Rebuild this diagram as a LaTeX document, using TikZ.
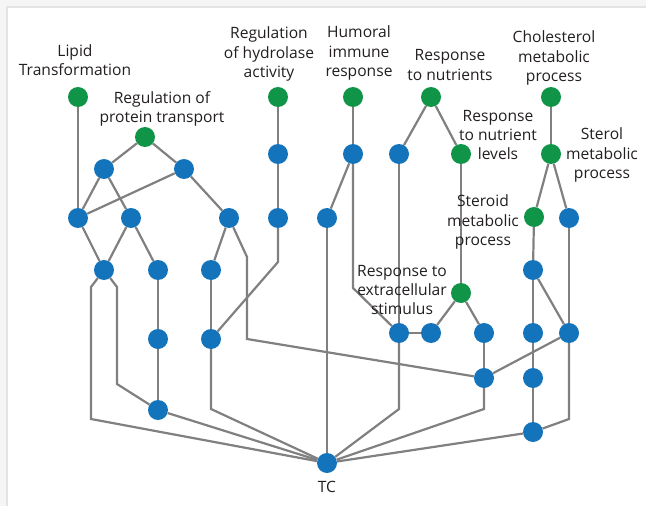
\documentclass[tikz,border=0pt]{standalone}
\usepackage{fontspec}
\setmainfont{Open Sans}
\definecolor{ngreen}{RGB}{16,149,72}
\definecolor{nblue}{RGB}{19,115,187}
\definecolor{edgec}{RGB}{128,128,128}
\definecolor{outerbg}{RGB}{245,245,245}
\definecolor{framec}{RGB}{228,228,230}
\definecolor{txt}{RGB}{35,31,32}
\begin{document}
\begin{tikzpicture}[x=1pt,y=-1pt,
  gnode/.style={circle,fill=ngreen,minimum size=20pt,inner sep=0pt},
  bnode/.style={circle,fill=nblue,minimum size=20pt,inner sep=0pt},
  lbl/.style={align=center,font=\fontsize{15.6}{19.3}\selectfont,text=txt,inner sep=0pt},
  conn/.style={draw=edgec,line width=2.2pt}]
\useasboundingbox (0,0) rectangle (646,506);
\fill[outerbg] (0,0) rectangle (646,506);
\fill[white] (8,8) rectangle (646,506);
\draw[framec,line width=2pt] (7,506) -- (7,7) -- (646,7);

% green nodes
\node[gnode] (G1) at (78,97) {};
\node[gnode] (G2) at (145,137) {};
\node[gnode] (G3) at (278,97) {};
\node[gnode] (G4) at (353,97) {};
\node[gnode] (G5) at (431,97) {};
\node[gnode] (G6) at (551,97) {};
\node[gnode] (G7) at (461,154) {};
\node[gnode] (G8) at (551,154) {};
\node[gnode] (G9) at (534,217) {};
\node[gnode] (G10) at (461,293) {};
% blue nodes
\node[bnode] (B1) at (104,169) {};
\node[bnode] (B2) at (184,169) {};
\node[bnode] (B3) at (278,154) {};
\node[bnode] (B4) at (353,154) {};
\node[bnode] (B5) at (399,154) {};
\node[bnode] (B6) at (78,218) {};
\node[bnode] (B7) at (131,218) {};
\node[bnode] (B8) at (229,218) {};
\node[bnode] (B9) at (278,218) {};
\node[bnode] (B10) at (327,218) {};
\node[bnode] (B11) at (569,218) {};
\node[bnode] (B12) at (104,270) {};
\node[bnode] (B13) at (158,270) {};
\node[bnode] (B14) at (211,270) {};
\node[bnode] (B15) at (533,270) {};
\node[bnode] (B16) at (158,339) {};
\node[bnode] (B17) at (211,339) {};
\node[bnode] (B18) at (399,333) {};
\node[bnode] (B19) at (431,333) {};
\node[bnode] (B20) at (484,333) {};
\node[bnode] (B21) at (533,333) {};
\node[bnode] (B22) at (569,333) {};
\node[bnode] (B23) at (484,378) {};
\node[bnode] (B24) at (533,378) {};
\node[bnode] (B25) at (158,410) {};
\node[bnode] (B26) at (533,432) {};
\node[bnode] (TC) at (327,463) {};

% bend points
\coordinate (p1) at (91,287);
\coordinate (p2) at (91,419);
\coordinate (p3) at (117,287);
\coordinate (p4) at (117,384);
\coordinate (p5) at (247,257);
\coordinate (p6) at (247,339);
\coordinate (p7) at (278,262);
\coordinate (p8) at (211,409);
\coordinate (p9) at (353,288);
\coordinate (p10) at (399,409);
\coordinate (p11) at (484,409);
\coordinate (p12) at (569,419);

% edges
\draw[conn] (G1) -- (B6);
\draw[conn] (G2) -- (B1);
\draw[conn] (G2) -- (B2);
\draw[conn] (B1) -- (B6);
\draw[conn] (B1) -- (B7);
\draw[conn] (B2) -- (B6);
\draw[conn] (B2) -- (B8);
\draw[conn] (B6) -- (B12);
\draw[conn] (B7) -- (B12);
\draw[conn] (B7) -- (B13);
\draw[conn] (B12) -- (p1) -- (p2) -- (TC);
\draw[conn] (B12) -- (p3) -- (p4) -- (B25);
\draw[conn] (B13) -- (B16);
\draw[conn] (B16) -- (B25);
\draw[conn] (B25) -- (TC);
\draw[conn] (B8) -- (B14);
\draw[conn] (B8) -- (p5) -- (p6) -- (B23);
\draw[conn] (B14) -- (B17);
\draw[conn] (B17) -- (p8) -- (TC);
\draw[conn] (G3) -- (B3);
\draw[conn] (B3) -- (B9);
\draw[conn] (B9) -- (p7) -- (B17);
\draw[conn] (G4) -- (B4);
\draw[conn] (B4) -- (B10);
\draw[conn] (B10) -- (TC);
\draw[conn] (B4) -- (p9) -- (B18);
\draw[conn] (G5) -- (B5);
\draw[conn] (G5) -- (G7);
\draw[conn] (B5) -- (B18);
\draw[conn] (B18) -- (B19);
\draw[conn] (B18) -- (p10) -- (TC);
\draw[conn] (G7) -- (G10);
\draw[conn] (G10) -- (B19);
\draw[conn] (G10) -- (B20);
\draw[conn] (B20) -- (B23);
\draw[conn] (B23) -- (p11) -- (TC);
\draw[conn] (B23) -- (B22);
\draw[conn] (G6) -- (G8);
\draw[conn] (G8) -- (G9);
\draw[conn] (G8) -- (B11);
\draw[conn] (G9) -- (B15);
\draw[conn] (B15) -- (B21);
\draw[conn] (B15) -- (B22);
\draw[conn] (B11) -- (B22);
\draw[conn] (B21) -- (B24);
\draw[conn] (B24) -- (B26);
\draw[conn] (B22) -- (p12) -- (B26);
\draw[conn] (B26) -- (TC);

% labels
\node[lbl] (L1) at (75,60) {Lipid\\Transformation};
\node[lbl] (L2) at (162,109) {Regulation of\\protein transport};
\node[lbl] (L3) at (269,54) {Regulation\\of hydrolase\\activity};
\node[lbl] (L4) at (359,53) {Humoral\\immune\\response};
\node[lbl] (L5) at (450,65) {Response\\to nutrients};
\node[lbl] (L6) at (554,58) {Cholesterol\\metabolic\\process};
\node[lbl] (L7) at (498,135) {Response\\to nutrient\\levels};
\node[lbl] (L8) at (602,155) {Sterol\\metabolic\\process};
\node[lbl] (L9) at (483,222) {Steroid\\metabolic\\process};
\node[lbl] (L10) at (402,290) {Response to\\extracellular\\stimulus};
\node[lbl] (L11) at (327,487) {TC};
\end{tikzpicture}
\end{document}
